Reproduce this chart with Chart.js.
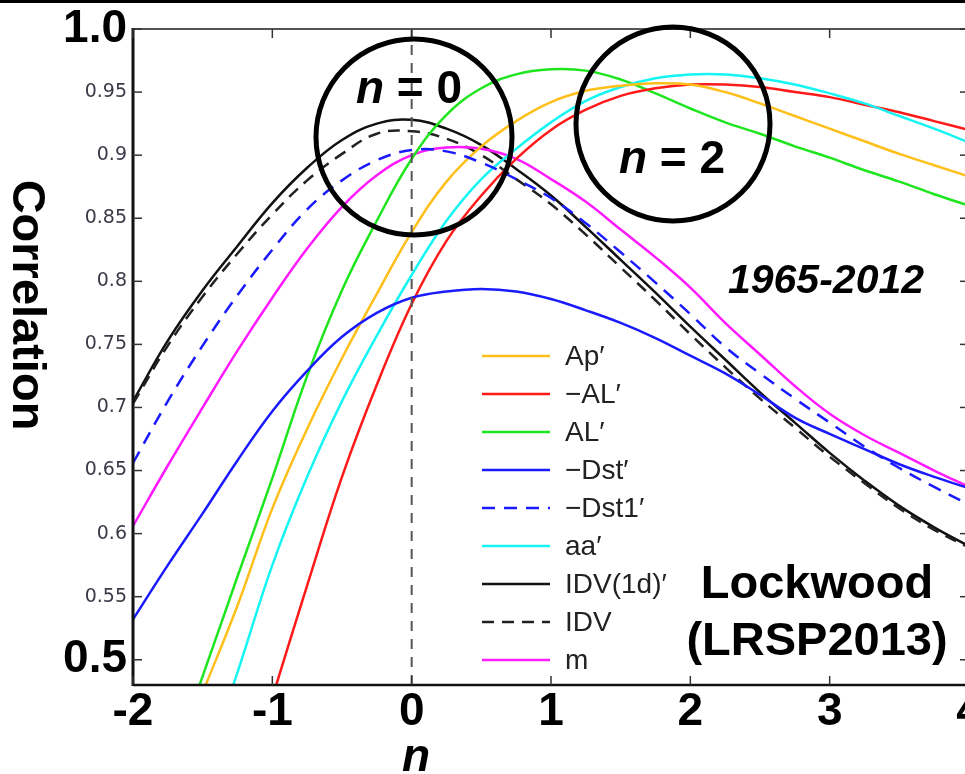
<!DOCTYPE html>
<html>
<head>
<meta charset="utf-8">
<script src="https://cdn.jsdelivr.net/npm/chart.js@4.4.0/dist/chart.umd.min.js"></script>
<style>
  html, body { margin: 0; padding: 0; background: #fff; overflow: hidden; width: 965px; height: 774px; }
  #topbar { position: absolute; left: 0; top: 0; width: 965px; height: 3px; background: #000; z-index: 2; }
  #wrap { position: absolute; left: 0; top: 0; width: 1000px; height: 774px; }
</style>
</head>
<body>
<div id="topbar"></div>
<div id="wrap"><canvas id="chart" width="1000" height="774"></canvas></div>
<script>
  // lag n (x axis)
  const nValues = [-2, -1.75, -1.5, -1.25, -1, -0.75, -0.5, -0.25, 0, 0.25, 0.5, 0.75, 1,
                   1.25, 1.5, 1.75, 2, 2.25, 2.5, 2.75, 3, 3.25, 3.5, 3.75, 4];

  // correlation curves, one value per n
  const apPrime   = [null, null, 0.474, 0.543, 0.620, 0.683, 0.739, 0.790, 0.839, 0.879, 0.907, 0.927, 0.942,
                     0.951, 0.955, 0.957, 0.956, 0.950, 0.941, 0.931, 0.921, 0.911, 0.901, 0.892, 0.883];
  const minusAL   = [null, null, null, null, 0.470, 0.559, 0.645, 0.718, 0.782, 0.832, 0.868, 0.897, 0.920,
                     0.936, 0.947, 0.953, 0.956, 0.956, 0.954, 0.950, 0.946, 0.940, 0.934, 0.927, 0.920];
  const alPrime   = [null, 0.410, 0.487, 0.566, 0.644, 0.725, 0.793, 0.848, 0.897, 0.932, 0.953, 0.964, 0.968,
                     0.967, 0.960, 0.949, 0.937, 0.926, 0.917, 0.907, 0.898, 0.888, 0.879, 0.869, 0.860];
  const minusDst  = [0.532, 0.575, 0.616, 0.658, 0.697, 0.729, 0.756, 0.775, 0.787, 0.792, 0.794, 0.792, 0.786,
                     0.777, 0.767, 0.755, 0.741, 0.727, 0.710, 0.692, 0.679, 0.667, 0.655, 0.645, 0.636];
  const minusDst1 = [0.656, 0.705, 0.749, 0.789, 0.825, 0.857, 0.880, 0.896, 0.904, 0.903, 0.894, 0.881, 0.866,
                     0.846, 0.823, 0.799, 0.774, 0.748, 0.727, 0.707, 0.688, 0.669, 0.652, 0.637, 0.623];
  const aaPrime   = [null, null, 0.410, 0.490, 0.575, 0.645, 0.705, 0.757, 0.805, 0.848, 0.881, 0.905, 0.926,
                     0.943, 0.954, 0.961, 0.964, 0.964, 0.961, 0.956, 0.949, 0.941, 0.931, 0.921, 0.910];
  const idv1d     = [0.705, 0.753, 0.793, 0.828, 0.862, 0.890, 0.912, 0.925, 0.928, 0.921, 0.908, 0.889, 0.868,
                     0.843, 0.817, 0.791, 0.764, 0.738, 0.712, 0.688, 0.664, 0.642, 0.622, 0.605, 0.590];
  const idv       = [0.703, 0.749, 0.788, 0.822, 0.853, 0.880, 0.901, 0.917, 0.919, 0.913, 0.900, 0.881, 0.861,
                     0.837, 0.811, 0.785, 0.758, 0.732, 0.707, 0.684, 0.661, 0.640, 0.620, 0.603, 0.589];
  const mIndex    = [0.606, 0.654, 0.700, 0.745, 0.787, 0.826, 0.859, 0.884, 0.900, 0.906, 0.905, 0.897, 0.881,
                     0.863, 0.841, 0.819, 0.795, 0.767, 0.742, 0.717, 0.695, 0.678, 0.664, 0.650, 0.637];

  // axes
  const xTicks = [-2, -1, 0, 1, 2, 3, 4];
  const yTicks = [0.5, 0.55, 0.6, 0.65, 0.7, 0.75, 0.8, 0.85, 0.9, 0.95, 1.0];
  const xMin = -2, xMax = 4, yMin = 0.48, yMax = 1.0;

  const FONT = "'Liberation Sans', Arial, sans-serif";

  function series(label, values, color, dash) {
    return {
      label: label,
      data: nValues.map(function (n, i) { return { x: n, y: values[i] }; }),
      borderColor: color,
      borderWidth: 2.5,
      borderDash: dash || [],
      pointRadius: 0,
      fill: false,
      tension: 0.4
    };
  }

  const datasets = [
    {
      label: '',
      data: [{ x: 0, y: yMin }, { x: 0, y: yMax }],
      borderColor: '#555',
      borderWidth: 2,
      borderDash: [10, 8],
      pointRadius: 0
    },
    series('−Dst′', minusDst, '#1a1aff'),
    series('−Dst1′', minusDst1, '#1a1aff', [13, 9]),
    series('Ap′', apPrime, '#ffbf1a'),
    series('aa′', aaPrime, '#16f4f4'),
    series('−AL′', minusAL, '#ff1a1a'),
    series('AL′', alPrime, '#1ee51e'),
    series('m', mIndex, '#ff1aff'),
    series('IDV', idv, '#222', [12, 8]),
    series('IDV(1d)′', idv1d, '#111')
  ];

  const legendOrder = ['Ap′', '−AL′', 'AL′', '−Dst′', '−Dst1′', 'aa′', 'IDV(1d)′', 'IDV', 'm'];

  function line(ctx, x1, y1, x2, y2) {
    ctx.beginPath(); ctx.moveTo(x1, y1); ctx.lineTo(x2, y2); ctx.stroke();
  }

  // n = 0 style label: italic n, upright rest
  function nLabel(ctx, rest, cx, baseline) {
    const fItalic = 'italic bold 46px ' + FONT;
    const fBold = 'bold 46px ' + FONT;
    ctx.font = fItalic;
    const w1 = ctx.measureText('n').width;
    ctx.font = fBold;
    const w2 = ctx.measureText(rest).width;
    const x0 = cx - (w1 + w2) / 2;
    ctx.textAlign = 'left';
    ctx.textBaseline = 'alphabetic';
    ctx.font = fItalic;
    ctx.fillText('n', x0, baseline);
    ctx.font = fBold;
    ctx.fillText(rest, x0 + w1, baseline);
  }

  const overlay = {
    id: 'overlay',
    afterDatasetsDraw: function (chart) {
      const ctx = chart.ctx, a = chart.chartArea;
      const x = chart.scales.x, y = chart.scales.y;
      ctx.save();

      // frame
      ctx.strokeStyle = '#555'; ctx.lineWidth = 2;
      line(ctx, a.left, a.top, a.right, a.top);
      line(ctx, a.right, a.top, a.right, a.bottom);
      ctx.strokeStyle = '#111'; ctx.lineWidth = 3;
      line(ctx, a.left, a.top - 1, a.left, a.bottom + 1);
      ctx.lineWidth = 2.5;
      line(ctx, a.left, a.bottom, a.right, a.bottom);

      // inward ticks
      ctx.strokeStyle = '#333'; ctx.lineWidth = 1.5;
      x.ticks.forEach(function (t) {
        const px = x.getPixelForValue(t.value);
        line(ctx, px, a.bottom, px, a.bottom - 9);
        line(ctx, px, a.top, px, a.top + 9);
      });
      y.ticks.forEach(function (t) {
        const py = y.getPixelForValue(t.value);
        line(ctx, a.left, py, a.left + 9, py);
        line(ctx, a.right, py, a.right - 9, py);
      });

      // legend
      ctx.textAlign = 'left';
      ctx.textBaseline = 'middle';
      ctx.font = '28px ' + FONT;
      legendOrder.forEach(function (name, i) {
        const ds = chart.data.datasets.find(function (d) { return d.label === name; });
        const ry = 356 + i * 38;
        ctx.strokeStyle = ds.borderColor;
        ctx.lineWidth = 2.5;
        ctx.setLineDash(ds.borderDash || []);
        line(ctx, 482, ry, 550, ry);
        ctx.setLineDash([]);
        ctx.fillStyle = '#222';
        ctx.fillText(name, 565, ry + 1);
      });

      // circles
      ctx.strokeStyle = '#000'; ctx.lineWidth = 5;
      ctx.beginPath(); ctx.arc(414, 137, 98, 0, Math.PI * 2); ctx.stroke();
      ctx.beginPath(); ctx.arc(673, 124, 97, 0, Math.PI * 2); ctx.stroke();

      ctx.fillStyle = '#000';
      nLabel(ctx, ' = 0', 409, 103);
      nLabel(ctx, ' = 2', 672, 173);

      ctx.textAlign = 'center';
      ctx.textBaseline = 'alphabetic';
      ctx.font = 'italic bold 41px ' + FONT;
      ctx.fillText('1965-2012', 826, 293);

      ctx.font = 'bold 47px ' + FONT;
      ctx.fillText('Lockwood', 817, 598);
      ctx.fillText('(LRSP2013)', 817, 655);

      // axis titles
      ctx.font = 'italic bold 46px ' + FONT;
      ctx.fillText('n', 416, 771);

      ctx.save();
      ctx.translate(13, 305);
      ctx.rotate(Math.PI / 2);
      ctx.font = 'bold 47px ' + FONT;
      ctx.textAlign = 'center';
      ctx.fillText('Correlation', 0, 0);
      ctx.restore();

      ctx.restore();
    }
  };

  new Chart(document.getElementById('chart'), {
    type: 'line',
    data: { datasets: datasets },
    plugins: [overlay],
    options: {
      responsive: false,
      animation: false,
      layout: { padding: { top: 27, right: 31, left: 0, bottom: 0 } },
      plugins: { legend: { display: false }, tooltip: { enabled: false } },
      scales: {
        x: {
          type: 'linear',
          min: xMin,
          max: xMax,
          afterBuildTicks: function (scale) { scale.ticks = xTicks.map(function (v) { return { value: v }; }); },
          afterFit: function (scale) { scale.height = 89; },
          grid: { display: false, drawTicks: false },
          border: { display: false },
          ticks: {
            autoSkip: false,
            maxRotation: 0,
            padding: 0,
            color: '#000',
            font: { family: FONT, size: 46, weight: 'bold', lineHeight: 1.2 },
            callback: function (v) { return String(v); }
          }
        },
        y: {
          type: 'linear',
          min: yMin,
          max: yMax,
          afterBuildTicks: function (scale) { scale.ticks = yTicks.map(function (v) { return { value: v }; }); },
          afterFit: function (scale) { scale.width = 133; },
          grid: { display: false, drawTicks: false },
          border: { display: false },
          ticks: {
            padding: 6,
            color: function (c) {
              const v = c.tick && c.tick.value;
              return (v === 1 || v === 0.5) ? '#000' : '#3a3a48';
            },
            font: function (c) {
              const v = c.tick && c.tick.value;
              if (v === 1 || v === 0.5) return { family: FONT, size: 46, weight: 'bold', lineHeight: 1 };
              return { family: "'DejaVu Sans', sans-serif", size: 19 };
            },
            callback: function (v) {
              if (v === 1) return '1.0';
              if (v === 0.5) return '0.5';
              return String(v);
            }
          }
        }
      }
    }
  });
</script>
</body>
</html>
